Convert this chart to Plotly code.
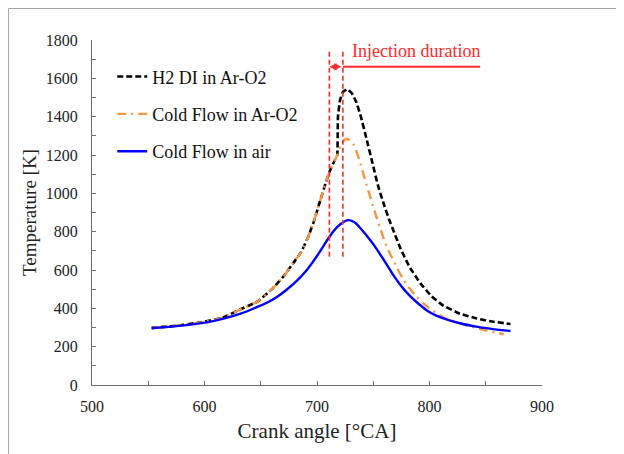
import plotly.graph_objects as go

# ---------------- data ----------------
ca_h2 = [553, 575, 600, 617, 632, 647, 660, 670, 680, 686, 692, 697, 703, 708, 712, 716,
         718, 718.6, 720.5, 723, 727, 731, 735, 739, 744, 749, 754, 759, 764, 769, 774,
         782, 792, 802, 812, 827, 842, 857, 872]
t_h2 = [298, 309, 330, 353, 395, 435, 500, 565, 645, 695, 770, 850, 965, 1060, 1125, 1175,
        1200, 1400, 1487, 1528, 1543, 1522, 1475, 1400, 1285, 1165, 1045, 950, 865, 790, 715,
        618, 530, 462, 415, 372, 347, 330, 318]

ca_cf_aro2 = [553, 575, 600, 617, 632, 647, 660, 670, 680, 686, 692, 697, 703, 708, 712, 716,
              718, 721, 725, 729, 732.5, 738.5, 744, 750, 756, 762, 770, 777, 787, 798, 812,
              827, 845, 866]
t_cf_aro2 = [298, 309, 330, 353, 395, 435, 500, 565, 645, 695, 770, 850, 965, 1060, 1125, 1175,
             1200, 1245, 1282, 1278, 1255, 1157, 1045, 930, 820, 722, 625, 548, 470, 409, 355,
             322, 292, 265]

ca_cf_air = [553, 575, 602, 617, 632, 646, 655, 664, 673, 682, 690, 697, 703, 709, 715, 721,
             727.5, 733, 738, 744, 750, 756, 762, 768, 775, 783, 791, 798, 806, 815, 827, 840,
             855, 872]
t_cf_air = [296, 307, 327, 346, 372, 405, 428, 458, 497, 543, 593, 648, 700, 755, 805, 840,
            860, 850, 822, 780, 735, 683, 628, 572, 515, 462, 420, 388, 362, 342, 322, 306,
            293, 282]

series_names = ["H2 DI in Ar-O2", "Cold Flow in Ar-O2", "Cold Flow in air"]

injection_window = [711, 723]          # crank angle of the two red markers
injection_marker_span = [669, 1739]    # temperature extent of the red dashed markers
injection_bar_level = 1660
injection_bar_end = 845
injection_label = "Injection duration"

x_range = [500, 900]
y_range = [0, 1800]

FONT = "Liberation Serif, Times New Roman, serif"

fig = go.Figure()

fig.add_trace(go.Scatter(
    x=ca_h2, y=t_h2, mode="lines", name=series_names[0], legendgroup="a",
    line=dict(color="#000000", width=2.6, dash="6px,3px", shape="spline", smoothing=0.3)))
fig.add_trace(go.Scatter(
    x=ca_cf_aro2, y=t_cf_aro2, mode="lines", name=series_names[1], legendgroup="b",
    line=dict(color="#F79646", width=2.4, dash="9px,5px,2px,5px", shape="spline", smoothing=0.8)))
fig.add_trace(go.Scatter(
    x=ca_cf_air, y=t_cf_air, mode="lines", name=series_names[2], legendgroup="c",
    line=dict(color="#0000FF", width=2.4, shape="spline", smoothing=1.0)))

# injection markers
for xv in injection_window:
    fig.add_shape(type="line", xref="x", yref="y", x0=xv, x1=xv,
                  y0=injection_marker_span[0], y1=injection_marker_span[1],
                  line=dict(color="#FF2A2A", width=1.6, dash="5px,3px"))
fig.add_shape(type="line", xref="x", yref="y", x0=injection_window[1], x1=injection_bar_end,
              y0=injection_bar_level, y1=injection_bar_level,
              line=dict(color="#FF2A2A", width=2))
fig.add_annotation(x=injection_window[0], y=injection_bar_level, ax=injection_window[1],
                   ay=injection_bar_level, xref="x", yref="y", axref="x", ayref="y",
                   text="", showarrow=True, arrowhead=2, arrowside="end+start",
                   arrowsize=0.9, arrowwidth=1.6, arrowcolor="#FF2A2A")
fig.add_annotation(x=729.5, y=1742, xref="x", yref="y", text=injection_label,
                   showarrow=False, xanchor="left", yanchor="middle",
                   font=dict(family=FONT, size=18, color="#FF2A2A"))

# outer frame (top and left edges visible)
fig.add_shape(type="line", xref="paper", yref="paper", x0=-0.1856, x1=1.25,
              y0=1.0913, y1=1.0913, line=dict(color="#A6A6A6", width=1))
fig.add_shape(type="line", xref="paper", yref="paper", x0=-0.1856, x1=-0.1856,
              y0=-0.25, y1=1.0913, line=dict(color="#A6A6A6", width=1))

fig.update_layout(
    width=624, height=454,
    margin=dict(l=84, r=90, t=32, b=77),
    paper_bgcolor="white", plot_bgcolor="white",
    font=dict(family=FONT, color="#222222"),
    showlegend=True,
    legend=dict(x=0.045, y=0.947, xanchor="left", yanchor="top",
                bgcolor="rgba(0,0,0,0)", font=dict(family=FONT, size=18, color="#111111"),
                traceorder="grouped", tracegroupgap=11, itemwidth=30),
    xaxis=dict(range=x_range, dtick=100, tick0=500, showline=True, linecolor="#6E6E6E",
               linewidth=1, ticks="inside", ticklen=4, tickcolor="#6E6E6E",
               minor=dict(dtick=50, ticks="inside", ticklen=4, tickcolor="#6E6E6E"),
               showgrid=False, zeroline=False, ticklabelstandoff=7,
               tickfont=dict(family=FONT, size=16, color="#222222"),
               title=dict(text="Crank angle [°CA]", font=dict(family=FONT, size=21, color="#222222"),
                          standoff=9)),
    yaxis=dict(range=y_range, dtick=200, tick0=0, showline=True, linecolor="#6E6E6E",
               linewidth=1, ticks="inside", ticklen=4, tickcolor="#6E6E6E",
               minor=dict(dtick=100, ticks="inside", ticklen=4, tickcolor="#6E6E6E"),
               showgrid=False, zeroline=False, ticklabelstandoff=10,
               tickfont=dict(family=FONT, size=16, color="#222222"),
               title=dict(text="Temperature [K]", font=dict(family=FONT, size=19, color="#222222"),
                          standoff=4)),
)

fig.write_html("out.html")
